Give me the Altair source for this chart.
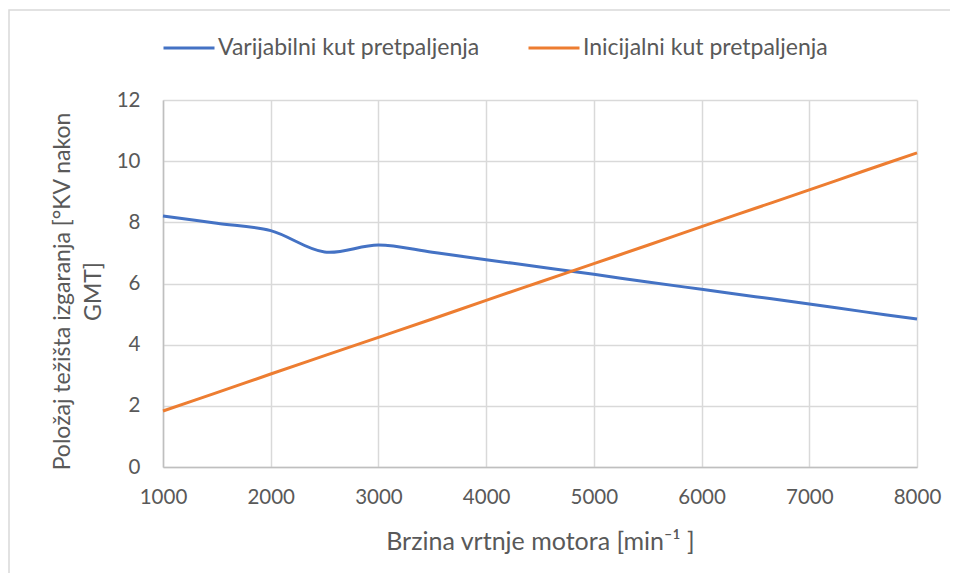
import altair as alt
import pandas as pd

rpm = [1000, 1500, 2000, 2500, 3000, 3500, 4000, 4500, 5000, 5500, 6000, 6500, 7000, 7500, 8000]
variabilni = [8.21, 7.97, 7.73, 7.03, 7.26, 7.02, 6.78, 6.54, 6.30, 6.05, 5.81, 5.57, 5.33, 5.08, 4.84]
inicijalni = [1.83, 2.43, 3.04, 3.64, 4.24, 4.84, 5.45, 6.05, 6.65, 7.25, 7.86, 8.46, 9.06, 9.67, 10.27]
series_names = ["Varijabilni kut pretpaljenja", "Inicijalni kut pretpaljenja"]
colors = ["#4472C4", "#ED7D31"]

rows = []
for r, v in zip(rpm, variabilni):
    rows.append({"rpm": r, "val": v, "serija": series_names[0]})
for r, v in zip(rpm, inicijalni):
    rows.append({"rpm": r, "val": v, "serija": series_names[1]})
df = pd.DataFrame(rows)

FONT = "Lato"
GRAY = "#595959"

lines = alt.Chart(df).mark_line(strokeWidth=3, interpolate="catmull-rom").encode(
    x=alt.X("rpm:Q",
            scale=alt.Scale(domain=[1000, 8000], nice=False, zero=False),
            axis=alt.Axis(values=[1000, 2000, 3000, 4000, 5000, 6000, 7000, 8000],
                          title="Brzina vrtnje motora [min⁻¹ ]",
                          titleY=82, titleBaseline="alphabetic", titleFontSize=25,
                          labelPadding=20, labelFlush=False, format="d")),
    y=alt.Y("val:Q",
            scale=alt.Scale(domain=[0, 12], nice=False),
            axis=alt.Axis(values=[0, 2, 4, 6, 8, 10, 12],
                          title=["Položaj težišta izgaranja [°KV nakon", "GMT]"],
                          titleLineHeight=31, titleBaseline="bottom", titleFontSize=23,
                          titleX=-89, titleY=191, labelPadding=23)),
    color=alt.Color("serija:N",
                    scale=alt.Scale(domain=series_names, range=colors),
                    sort=series_names,
                    legend=alt.Legend(title=None, orient="none", direction="horizontal",
                                      legendX=-1, legendY=-79,
                                      symbolType="stroke", symbolSize=2601,
                                      symbolStrokeWidth=3, labelOffset=2,
                                      columnPadding=42, labelFontSize=23,
                                      labelLimit=500,
                                      labelFont=FONT, labelColor=GRAY)),
)

frame = pd.DataFrame({"a": [0]})
border = alt.Chart(frame).mark_rect(fill="transparent", stroke="#d9d9d9", strokeWidth=1.5).encode(
    x=alt.value(-154), x2=alt.value(830), y=alt.value(-90), y2=alt.value(620))

chart = alt.layer(border, lines).properties(
    width=754, height=367,
    autosize=alt.AutoSizeParams(type="none"),
    padding={"left": 155, "top": 92, "right": 33, "bottom": 106},
    background="white",
).configure_view(stroke=None).configure_axis(
    labelFont=FONT, titleFont=FONT, labelFontSize=20.5, titleFontSize=22.5,
    labelColor=GRAY, titleColor=GRAY, titleFontWeight="normal",
    ticks=False, tickSize=0, domain=True, domainColor="#bfbfbf", domainWidth=1.5,
    grid=True, gridColor="#d9d9d9", gridWidth=1.5,
)

chart.save("out.html", embed_options={"renderer": "svg", "actions": False})
